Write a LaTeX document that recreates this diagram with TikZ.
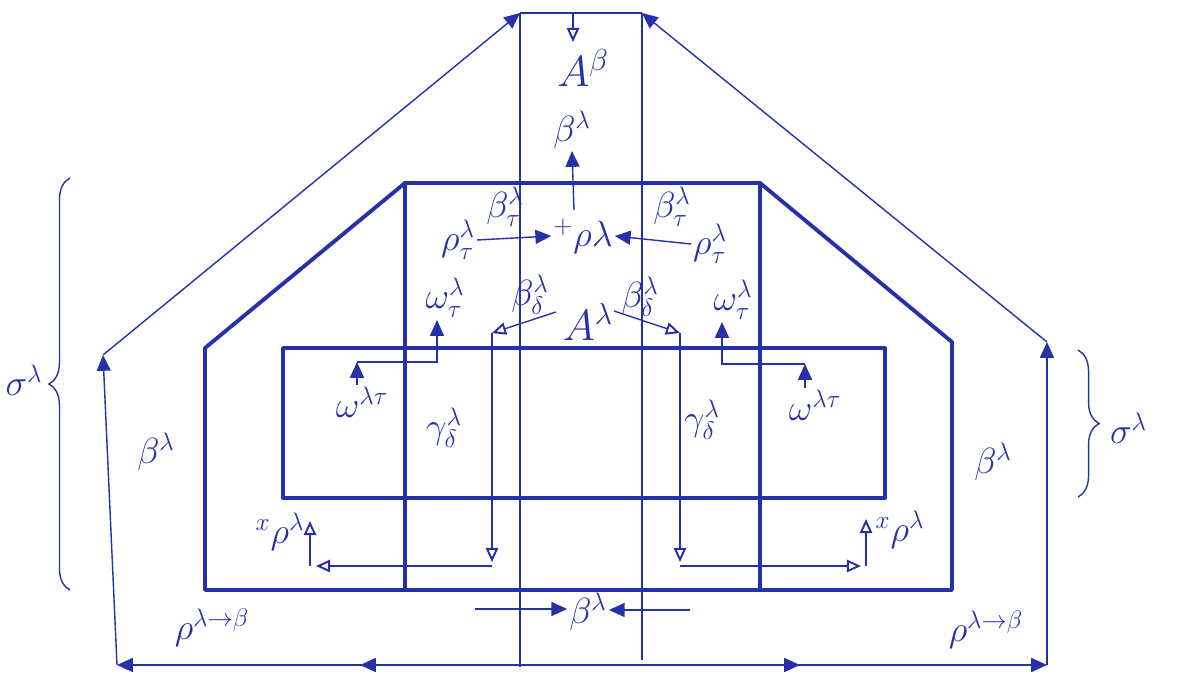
\documentclass[tikz,border=0pt]{standalone}
\usetikzlibrary{arrows.meta,decorations.pathreplacing}
\definecolor{ink}{RGB}{38,48,168}
\begin{document}
\begin{tikzpicture}[x=0.02cm,y=-0.02cm,
 thinline/.style={draw=ink,line width=0.8pt},
 thickline/.style={draw=ink,line width=2.2pt,line join=round,line cap=round},
 fa/.style={-{Triangle[length=9pt,width=8pt]}},
 oa/.style={-{Triangle[open,length=8pt,width=7pt,line width=1.1pt]}},
 lbl/.style={text=ink,font=\fontsize{22}{26}\selectfont,inner sep=1pt},
 biglbl/.style={text=ink,font=\fontsize{26}{30}\selectfont,inner sep=1pt},
 bracedeco/.style={thinline,decorate,decoration={brace,amplitude=12pt}}]
\useasboundingbox (0,0) rectangle (1178,680);
% outer frame
\coordinate (tl) at (520,13);
\coordinate (tr) at (642,13);
\coordinate (ml) at (103,355);
\coordinate (mr) at (1047,342);
\coordinate (bl) at (117,665);
\coordinate (br) at (1047,665);
\coordinate (bm) at (580,665);
\coordinate (bql) at (360,665);
\coordinate (bqr) at (800,665);
\draw[thinline] (tl) -- (tr);
\draw[thinline,fa] (ml) -- (tl);
\draw[thinline,fa] (mr) -- (tr);
\draw[thinline,fa] (bl) -- (ml);
\draw[thinline,fa] (br) -- (mr);
\draw[thinline,fa] (bm) -- (bl);
\draw[thinline,fa] (bm) -- (bql);
\draw[thinline,fa] (bm) -- (br);
\draw[thinline,fa] (bm) -- (bqr);
% thin verticals
\draw[thinline] (tl) -- (520,667);
\draw[thinline] (tr) -- (642,660);
% middle pentagon
\draw[thickline] (205,590) -- (205,348) -- (405,183) -- (760,183) -- (952,342) -- (952,590) -- cycle;
\draw[thickline] (405,183) -- (405,590);
\draw[thickline] (760,183) -- (760,590);
% inner rectangle
\draw[thickline] (283,348) rectangle (885,498);
% top
\node[biglbl] (AB) at (583,68) {$A^{\beta}$};
\coordinate (td) at (573,42);
\draw[thinline,oa] (573,13) -- (td);
\node[lbl] (Bl) at (572,130) {$\beta^{\lambda}$};
\coordinate (bu) at (574,210);
\draw[thinline,fa] (bu) -- (Bl.south);
% rho row
\node[lbl] (prho) at (583,236) {${}^{+}\rho\lambda$};
\node[lbl] (rl) at (458,240) {$\rho^{\lambda}_{\tau}$};
\node[lbl] (rr) at (710,244) {$\rho^{\lambda}_{\tau}$};
\node[lbl] (btl) at (505,207) {$\beta^{\lambda}_{\tau}$};
\node[lbl] (btr) at (672,207) {$\beta^{\lambda}_{\tau}$};
\draw[thinline,fa] (rl.east) -- (prho.west);
\draw[thinline,fa] (rr.west) -- (prho.east);
% omega
\node[lbl] (wl) at (445,298) {$\omega^{\lambda}_{\tau}$};
\node[lbl] (wr) at (733,300) {$\omega^{\lambda}_{\tau}$};
\node[lbl] (wlt) at (362,402) {$\omega^{\lambda\tau}$};
\node[lbl] (wrt) at (815,405) {$\omega^{\lambda\tau}$};
\coordinate (jl) at (357,362);
\coordinate (kl) at (437,362);
\coordinate (jr) at (805,364);
\coordinate (kr) at (722,364);
\draw[thinline,fa] (wlt.north -| jl) -- (jl);
\draw[thinline,fa] (jl) -- (kl) -- (wl.south -| kl);
\draw[thinline,fa] (wrt.north -| jr) -- (jr);
\draw[thinline,fa] (jr) -- (kr) -- (wr.south -| kr);
% A lambda
\node[biglbl] (Al) at (588,322) {$A^{\lambda}$};
\node[lbl] (bdl) at (530,295) {$\beta^{\lambda}_{\delta}$};
\node[lbl] (bdr) at (640,297) {$\beta^{\lambda}_{\delta}$};
\coordinate (gtl) at (492,333);
\coordinate (gtr) at (680,333);
\coordinate (gbl) at (492,562);
\coordinate (gbr) at (680,562);
\coordinate (al1) at (556,312);
\coordinate (ar1) at (614,311);
\draw[thinline,oa] (al1) -- (gtl);
\draw[thinline,oa] (ar1) -- (gtr);
\draw[thinline,oa] (gtl) -- (gbl);
\draw[thinline,oa] (gtr) -- (gbr);
\node[lbl] (gl) at (444,428) {$\gamma^{\lambda}_{\delta}$};
\node[lbl] (gr) at (702,420) {$\gamma^{\lambda}_{\delta}$};
% bottom corners
\coordinate (hl) at (492,566);
\coordinate (hl2) at (316,566);
\coordinate (vl) at (310,566);
\coordinate (vl2) at (310,521);
\coordinate (hr) at (680,566);
\coordinate (hr2) at (861,566);
\coordinate (vr) at (866,566);
\coordinate (vr2) at (866,519);
\draw[thinline,oa] (hl) -- (hl2);
\draw[thinline,oa] (vl) -- (vl2);
\draw[thinline,oa] (hr) -- (hr2);
\draw[thinline,oa] (vr) -- (vr2);
\node[lbl] (xl) at (280,532) {${}^{x}\rho^{\lambda}$};
\node[lbl] (xr) at (900,530) {${}^{x}\rho^{\lambda}$};
% bottom middle
\node[lbl] (bb) at (588,612) {$\beta^{\lambda}$};
\coordinate (bbl) at (475,609);
\coordinate (bbr) at (690,610);
\draw[thinline,fa] (bbl) -- (bb.west |- bbl);
\draw[thinline,fa] (bbr) -- (bb.east |- bbr);
% side labels
\node[lbl] (bL) at (156,452) {$\beta^{\lambda}$};
\node[lbl] (bR) at (993,462) {$\beta^{\lambda}$};
\node[lbl] (rbL) at (212,628) {$\rho^{\lambda\rightarrow\beta}$};
\node[lbl] (rbR) at (986,630) {$\rho^{\lambda\rightarrow\beta}$};
% braces
\coordinate (b1) at (70,590);
\coordinate (b2) at (70,178);
\draw[bracedeco] (b1) -- (b2);
\node[lbl] (sL) at (24,380) {$\sigma^{\lambda}$};
\coordinate (b3) at (1078,350);
\coordinate (b4) at (1078,497);
\draw[bracedeco] (b3) -- (b4);
\node[lbl,anchor=west] (sR) at (1108,428) {$\sigma^{\lambda}$};
\end{tikzpicture}
\end{document}
